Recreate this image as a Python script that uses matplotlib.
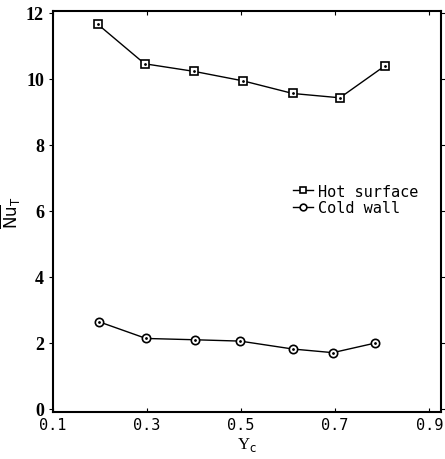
import matplotlib.pyplot as plt

# data
yc_hot = [0.195, 0.295, 0.40, 0.505, 0.61, 0.71, 0.805]
nu_hot = [11.65, 10.45, 10.22, 9.93, 9.55, 9.42, 10.38]
yc_cold = [0.197, 0.298, 0.403, 0.498, 0.61, 0.695, 0.785]
nu_cold = [2.64, 2.13, 2.09, 2.05, 1.81, 1.70, 1.99]

xticks = [0.1, 0.3, 0.5, 0.7, 0.9]
yticks = [0, 2, 4, 6, 8, 10, 12]

plt.rcParams['font.family'] = 'Liberation Serif'

fig = plt.figure(figsize=(4.45, 4.6), dpi=100)
ax = fig.add_axes([0.119, 0.102, 0.872, 0.872])

ax.plot(yc_hot, nu_hot, color='black', lw=1, marker='s', ms=6,
        mfc='white', mec='black', mew=1.2, label='Hot surface')
ax.plot(yc_cold, nu_cold, color='black', lw=1, marker='o', ms=6,
        mfc='white', mec='black', mew=1.2, label='Cold wall')
# little dots in the middle of the markers
ax.plot(yc_hot, nu_hot, ls='none', marker='.', ms=2, color='black')
ax.plot(yc_cold, nu_cold, ls='none', marker='.', ms=2, color='black')

ax.set_xlim(0.1, 0.925)
ax.set_ylim(-0.1, 12.05)
ax.set_xticks(xticks)
ax.set_xticklabels(['0.1', '0.3', '0.5', '0.7', '0.9'], family='DejaVu Sans Mono', fontsize=11)
ax.set_yticks(yticks)
ax.set_yticklabels([str(t) for t in yticks], fontsize=13, fontweight='bold')

ax.tick_params(axis='y', direction='out', length=3, right=True)
ax.tick_params(axis='x', direction='in', length=3, top=True)
for s in ax.spines.values():
    s.set_linewidth(1.5)

ax.set_xlabel('Y$_\\mathrm{c}$', fontsize=12, labelpad=2)
ax.set_ylabel('$\\overline{\\mathrm{Nu}}_\\mathrm{T}$', fontsize=12, labelpad=2)

ax.legend(loc='center left', bbox_to_anchor=(0.6, 0.53), frameon=False,
          prop={'family': 'DejaVu Sans Mono', 'size': 11},
          handlelength=1.3, handletextpad=0.3, labelspacing=0.1, borderpad=0,
          markerscale=0.8)

fig.savefig('out.png', dpi=100)
